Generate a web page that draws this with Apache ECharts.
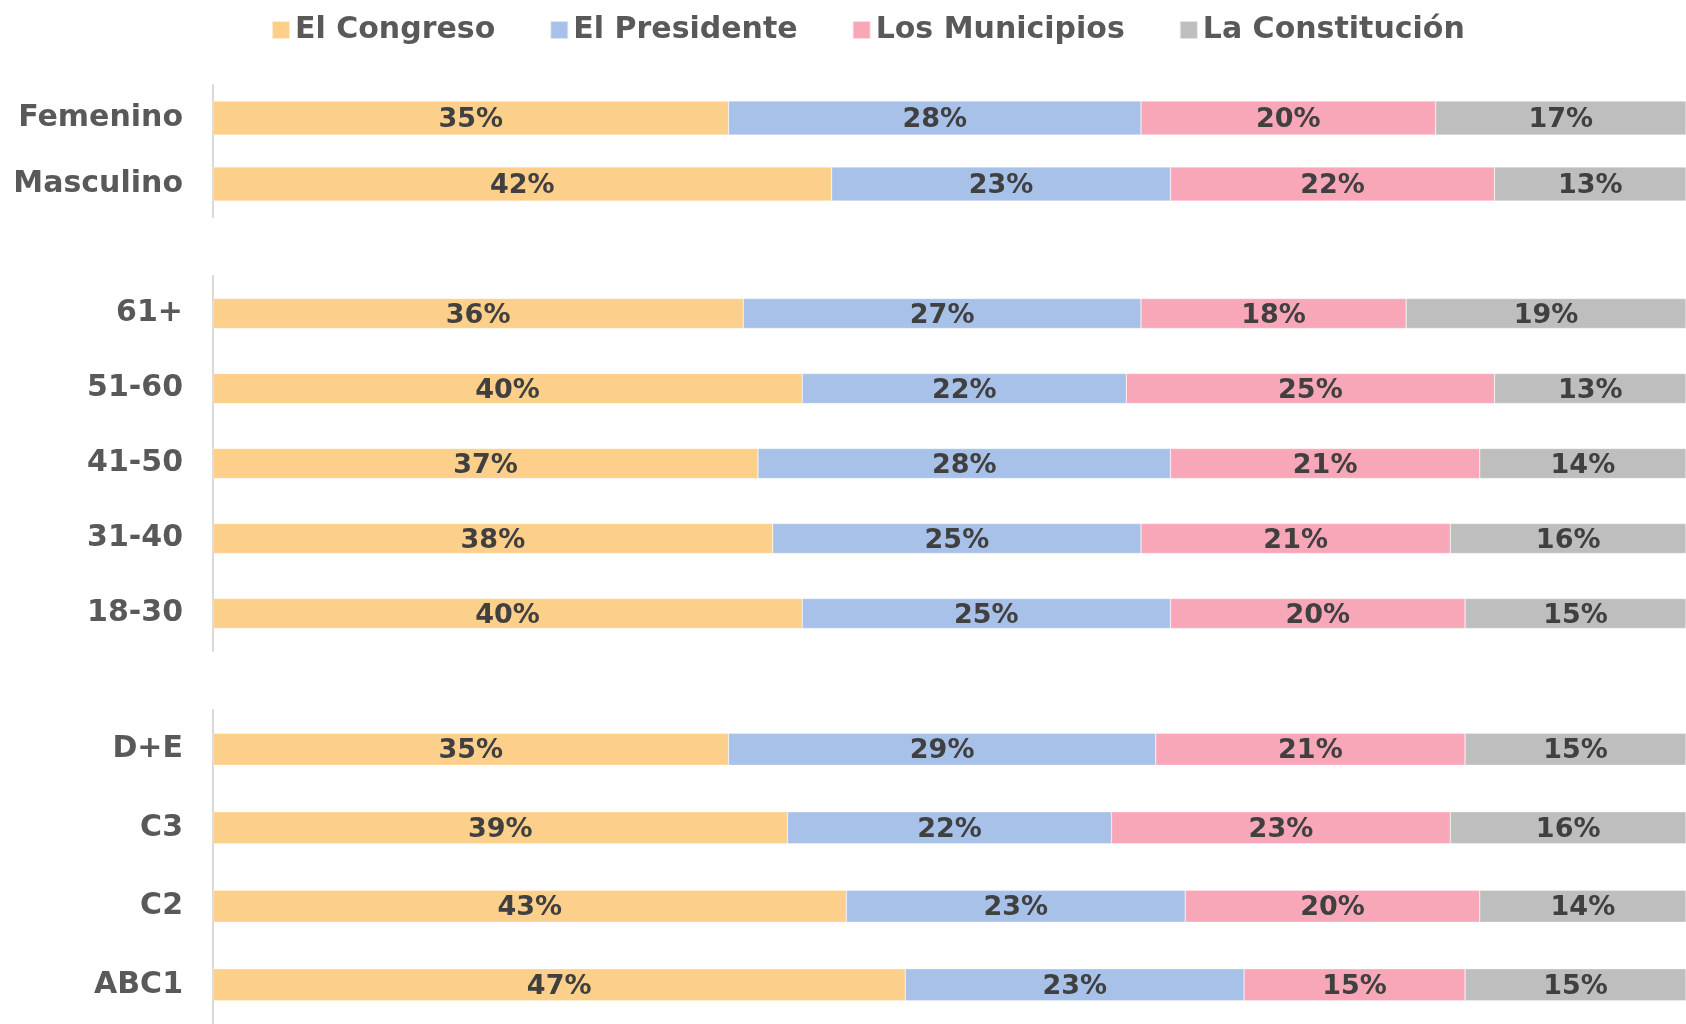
<!DOCTYPE html>
<html>
<head>
<meta charset="utf-8">
<script src="https://cdn.jsdelivr.net/npm/echarts@6/dist/echarts.min.js"></script>
<style>
html,body{margin:0;padding:0;background:#fff;}
#chart{width:1686px;height:1024px;}
</style>
</head>
<body>
<div id="chart"></div>
<script>
const seriesNames = ['El Congreso', 'El Presidente', 'Los Municipios', 'La Constitución'];
const seriesColors = ['#FCCF8B', '#A8C1E8', '#F8A7B9', '#BEBEBE'];

const genderCategories = ['Femenino', 'Masculino'];
const genderCongreso = [35, 42];
const genderPresidente = [28, 23];
const genderMunicipios = [20, 22];
const genderConstitucion = [17, 13];

const ageCategories = ['61+', '51-60', '41-50', '31-40', '18-30'];
const ageCongreso = [36, 40, 37, 38, 40];
const agePresidente = [27, 22, 28, 25, 25];
const ageMunicipios = [18, 25, 21, 21, 20];
const ageConstitucion = [19, 13, 14, 16, 15];

const nseCategories = ['D+E', 'C3', 'C2', 'ABC1'];
const nseCongreso = [35, 39, 43, 47];
const nsePresidente = [29, 22, 23, 23];
const nseMunicipios = [21, 23, 20, 15];
const nseConstitucion = [15, 16, 14, 15];

const FONT = 'DejaVu Sans';

const groups = [
  { cats: genderCategories, vals: [genderCongreso, genderPresidente, genderMunicipios, genderConstitucion], top: 85, height: 132, barWidth: 34 },
  { cats: ageCategories, vals: [ageCongreso, agePresidente, ageMunicipios, ageConstitucion], top: 276, height: 375, barWidth: 30 },
  { cats: nseCategories, vals: [nseCongreso, nsePresidente, nseMunicipios, nseConstitucion], top: 710, height: 318, barWidth: 32 }
];

const grid = [], xAxis = [], yAxis = [], series = [];
groups.forEach((g, gi) => {
  grid.push({ left: 213, right: 0, top: g.top, height: g.height, containLabel: false });
  xAxis.push({ type: 'value', gridIndex: gi, min: 0, max: 100, show: false });
  yAxis.push({
    type: 'category', gridIndex: gi, data: g.cats, inverse: true,
    axisLine: { show: true, lineStyle: { color: '#D9D9D9', width: 2 } },
    axisTick: { show: false },
    axisLabel: { margin: 30, fontFamily: FONT, fontWeight: 'bold', fontSize: 30, color: '#595959' }
  });
  g.vals.forEach((arr, si) => {
    series.push({
      name: seriesNames[si], type: 'bar', stack: 'g' + gi,
      xAxisIndex: gi, yAxisIndex: gi, data: arr, barWidth: g.barWidth,
      itemStyle: { color: seriesColors[si], borderColor: 'rgba(255,255,255,0.6)', borderWidth: 0.5 },
      label: { show: true, position: 'inside', offset: [0, 2], formatter: '{c}%', fontFamily: FONT, fontWeight: 'bold', fontSize: 27, color: '#404040' },
      emphasis: { disabled: true }
    });
  });
});

const chart = echarts.init(document.getElementById('chart'));
chart.setOption({
  animation: false,
  color: seriesColors,
  legend: {
    data: seriesNames, left: 266, top: 10, icon: 'rect', itemWidth: 18, itemHeight: 18, itemGap: 54,
    textStyle: { fontFamily: FONT, fontWeight: 'bold', fontSize: 30, color: '#595959' }
  },
  grid, xAxis, yAxis, series
});
</script>
</body>
</html>
